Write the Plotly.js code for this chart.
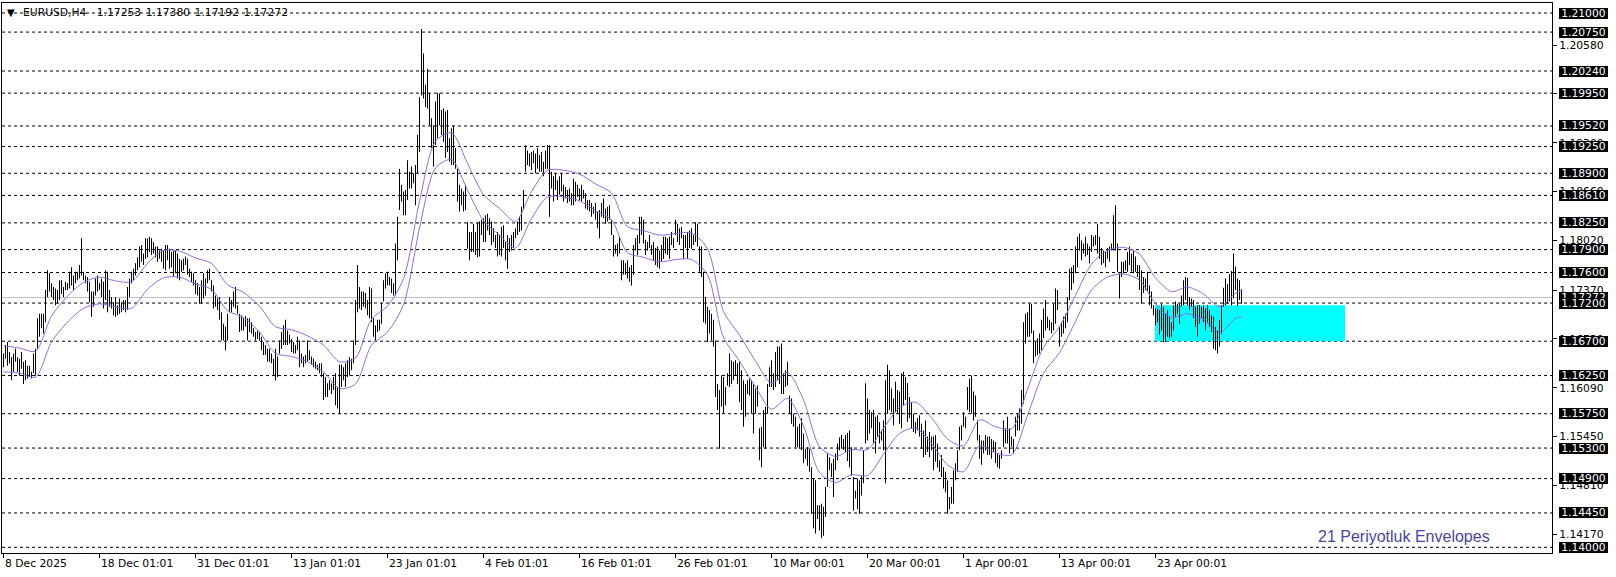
<!DOCTYPE html>
<html><head><meta charset="utf-8">
<script src="https://cdn.plot.ly/plotly-3.0.1.min.js"></script>
<style>html,body{margin:0;padding:0;background:#fff;overflow:hidden}#chart{width:1616px;height:577px}</style>
</head><body><div id="chart"></div>
<script>
// EURUSD H4 bar highs / lows (one value per 4-hour bar)
const highs = [
1.1654,1.1665,1.1669,1.1656,1.1649,1.1654,1.1660,1.1649,1.1647,1.1656,
1.1643,1.1645,1.1638,1.1638,1.1630,1.1654,1.1660,1.1700,1.1706,1.1706,
1.1706,1.1737,1.1763,1.1759,1.1746,1.1741,1.1739,1.1737,1.1750,1.1750,
1.1741,1.1748,1.1746,1.1761,1.1767,1.1756,1.1761,1.1761,1.1770,1.1805,
1.1761,1.1756,1.1754,1.1748,1.1735,1.1735,1.1752,1.1756,1.1746,1.1752,
1.1748,1.1763,1.1761,1.1737,1.1728,1.1721,1.1728,1.1717,1.1726,1.1721,
1.1724,1.1724,1.1741,1.1752,1.1761,1.1765,1.1772,1.1780,1.1794,1.1796,
1.1785,1.1805,1.1805,1.1807,1.1805,1.1800,1.1794,1.1794,1.1789,1.1791,
1.1789,1.1796,1.1796,1.1791,1.1787,1.1789,1.1789,1.1785,1.1778,1.1776,
1.1778,1.1781,1.1778,1.1765,1.1761,1.1759,1.1750,1.1746,1.1741,1.1750,
1.1759,1.1752,1.1763,1.1765,1.1750,1.1743,1.1730,1.1726,1.1728,1.1708,
1.1693,1.1689,1.1706,1.1728,1.1724,1.1735,1.1741,1.1717,1.1706,1.1704,
1.1700,1.1703,1.1700,1.1700,1.1695,1.1687,1.1682,1.1684,1.1682,1.1676,
1.1669,1.1665,1.1660,1.1660,1.1654,1.1647,1.1660,1.1650,1.1671,1.1682,
1.1691,1.1698,1.1684,1.1678,1.1673,1.1669,1.1665,1.1676,1.1671,1.1654,
1.1650,1.1652,1.1671,1.1658,1.1650,1.1647,1.1643,1.1639,1.1641,1.1641,
1.1628,1.1623,1.1615,1.1619,1.1615,1.1623,1.1628,1.1610,1.1639,1.1639,
1.1636,1.1641,1.1645,1.1649,1.1647,1.1671,1.1724,1.1770,1.1741,1.1735,
1.1735,1.1733,1.1724,1.1741,1.1739,1.1700,1.1691,1.1698,1.1698,1.1720,
1.1750,1.1759,1.1761,1.1754,1.1752,1.1746,1.1798,1.1833,1.1896,1.1875,
1.1866,1.1868,1.1907,1.1892,1.1899,1.1890,1.1901,1.1940,1.1990,1.2079,
1.2047,1.2006,1.2027,1.1995,1.1962,1.1953,1.1984,1.1995,1.1995,1.1973,
1.1975,1.1971,1.1973,1.1936,1.1949,1.1953,1.1923,1.1896,1.1875,1.1870,
1.1866,1.1875,1.1826,1.1813,1.1813,1.1824,1.1813,1.1825,1.1827,1.1829,
1.1831,1.1835,1.1837,1.1831,1.1827,1.1818,1.1809,1.1813,1.1809,1.1820,
1.1822,1.1800,1.1809,1.1805,1.1809,1.1813,1.1818,1.1827,1.1833,1.1846,
1.1868,1.1927,1.1920,1.1916,1.1918,1.1920,1.1916,1.1923,1.1914,1.1918,
1.1905,1.1920,1.1927,1.1927,1.1892,1.1886,1.1890,1.1881,1.1886,1.1890,
1.1875,1.1872,1.1868,1.1870,1.1864,1.1883,1.1879,1.1875,1.1870,1.1875,
1.1868,1.1864,1.1855,1.1855,1.1851,1.1846,1.1851,1.1840,1.1842,1.1851,
1.1857,1.1844,1.1846,1.1848,1.1829,1.1809,1.1796,1.1798,1.1807,1.1776,
1.1776,1.1772,1.1776,1.1767,1.1770,1.1796,1.1805,1.1809,1.1833,1.1833,
1.1829,1.1803,1.1800,1.1809,1.1796,1.1800,1.1792,1.1794,1.1789,1.1796,
1.1807,1.1807,1.1805,1.1807,1.1813,1.1805,1.1829,1.1824,1.1818,1.1820,
1.1809,1.1809,1.1813,1.1815,1.1818,1.1809,1.1826,1.1824,1.1794,1.1794,
1.1761,1.1728,1.1715,1.1711,1.1706,1.1698,1.1671,1.1614,1.1606,1.1625,
1.1623,1.1610,1.1628,1.1654,1.1645,1.1643,1.1645,1.1641,1.1643,1.1632,
1.1619,1.1614,1.1619,1.1621,1.1619,1.1614,1.1608,1.1612,1.1556,1.1558,
1.1580,1.1584,1.1614,1.1636,1.1645,1.1628,1.1656,1.1663,1.1663,1.1667,
1.1628,1.1632,1.1643,1.1599,1.1595,1.1575,1.1571,1.1558,1.1562,1.1569,
1.1549,1.1529,1.1531,1.1529,1.1505,1.1490,1.1488,1.1455,1.1455,1.1457,
1.1453,1.1479,1.1523,1.1518,1.1510,1.1516,1.1523,1.1536,1.1544,1.1547,
1.1542,1.1547,1.1550,1.1553,1.1531,1.1492,1.1474,1.1490,1.1488,1.1494,
1.1527,1.1615,1.1595,1.1580,1.1577,1.1580,1.1571,1.1573,1.1564,1.1553,
1.1566,1.1619,1.1639,1.1632,1.1608,1.1595,1.1617,1.1606,1.1604,1.1628,
1.1630,1.1623,1.1615,1.1597,1.1590,1.1575,1.1564,1.1569,1.1573,1.1562,
1.1553,1.1566,1.1545,1.1551,1.1545,1.1545,1.1547,1.1536,1.1514,1.1521,
1.1505,1.1499,1.1488,1.1466,1.1479,1.1501,1.1510,1.1527,1.1558,1.1560,
1.1577,1.1571,1.1610,1.1621,1.1625,1.1604,1.1599,1.1566,1.1547,1.1540,
1.1540,1.1547,1.1545,1.1545,1.1542,1.1540,1.1538,1.1523,1.1521,1.1527,
1.1566,1.1556,1.1571,1.1556,1.1545,1.1542,1.1571,1.1575,1.1582,1.1606,
1.1695,1.1706,1.1708,1.1719,1.1719,1.1684,1.1669,1.1674,1.1680,1.1698,
1.1713,1.1724,1.1702,1.1698,1.1695,1.1719,1.1739,1.1737,1.1689,1.1695,
1.1702,1.1706,1.1728,1.1765,1.1767,1.1770,1.1794,1.1807,1.1811,1.1802,
1.1798,1.1807,1.1798,1.1794,1.1809,1.1807,1.1809,1.1824,1.1807,1.1792,
1.1789,1.1787,1.1792,1.1794,1.1798,1.1835,1.1848,1.1798,1.1759,1.1774,
1.1774,1.1776,1.1787,1.1794,1.1785,1.1789,1.1781,1.1770,1.1770,1.1763,
1.1754,1.1752,1.1761,1.1743,1.1735,1.1717,1.1713,1.1713,1.1711,1.1719,
1.1715,1.1706,1.1711,1.1702,1.1695,1.1717,1.1722,1.1719,1.1719,1.1730,
1.1750,1.1754,1.1753,1.1728,1.1726,1.1724,1.1715,1.1717,1.1717,1.1715,
1.1717,1.1713,1.1717,1.1711,1.1704,1.1702,1.1689,1.1684,1.1698,1.1717,
1.1740,1.1752,1.1745,1.1758,1.1762,1.1785,1.1768,1.1752,1.1750,1.1738
];
const lows = [
1.1636,1.1647,1.1638,1.1641,1.1619,1.1630,1.1643,1.1630,1.1625,1.1634,
1.1614,1.1619,1.1621,1.1623,1.1621,1.1628,1.1625,1.1660,1.1676,1.1687,
1.1680,1.1695,1.1728,1.1735,1.1728,1.1724,1.1717,1.1719,1.1724,1.1732,
1.1728,1.1737,1.1737,1.1739,1.1743,1.1737,1.1746,1.1750,1.1752,1.1756,
1.1750,1.1746,1.1735,1.1721,1.1702,1.1715,1.1730,1.1735,1.1737,1.1728,
1.1713,1.1724,1.1708,1.1715,1.1713,1.1704,1.1702,1.1704,1.1706,1.1708,
1.1711,1.1708,1.1711,1.1728,1.1746,1.1750,1.1756,1.1763,1.1767,1.1774,
1.1770,1.1778,1.1780,1.1787,1.1783,1.1785,1.1780,1.1774,1.1778,1.1774,
1.1765,1.1763,1.1776,1.1765,1.1767,1.1754,1.1759,1.1752,1.1750,1.1761,
1.1763,1.1770,1.1757,1.1754,1.1748,1.1743,1.1732,1.1730,1.1719,1.1719,
1.1726,1.1730,1.1746,1.1750,1.1735,1.1713,1.1715,1.1711,1.1698,1.1671,
1.1671,1.1658,1.1671,1.1708,1.1708,1.1715,1.1713,1.1706,1.1682,1.1684,
1.1684,1.1689,1.1671,1.1682,1.1680,1.1676,1.1671,1.1673,1.1671,1.1658,
1.1652,1.1652,1.1643,1.1643,1.1641,1.1625,1.1619,1.1623,1.1654,1.1660,
1.1665,1.1665,1.1665,1.1667,1.1656,1.1654,1.1654,1.1658,1.1636,1.1641,
1.1636,1.1641,1.1643,1.1645,1.1639,1.1636,1.1634,1.1632,1.1628,1.1623,
1.1593,1.1597,1.1597,1.1606,1.1601,1.1606,1.1586,1.1582,1.1575,1.1610,
1.1619,1.1610,1.1623,1.1625,1.1632,1.1641,1.1665,1.1708,1.1713,1.1711,
1.1715,1.1713,1.1704,1.1700,1.1695,1.1676,1.1671,1.1682,1.1684,1.1693,
1.1722,1.1739,1.1743,1.1743,1.1733,1.1730,1.1730,1.1776,1.1842,1.1853,
1.1835,1.1835,1.1855,1.1870,1.1870,1.1877,1.1848,1.1890,1.1918,1.1992,
1.1988,1.1977,1.1975,1.1953,1.1923,1.1899,1.1927,1.1936,1.1953,1.1940,
1.1931,1.1910,1.1918,1.1905,1.1901,1.1901,1.1896,1.1853,1.1840,1.1848,
1.1840,1.1842,1.1791,1.1776,1.1787,1.1787,1.1783,1.1780,1.1781,1.1809,
1.1800,1.1800,1.1815,1.1809,1.1796,1.1800,1.1792,1.1781,1.1783,1.1781,
1.1792,1.1776,1.1765,1.1787,1.1789,1.1792,1.1805,1.1809,1.1813,1.1815,
1.1842,1.1892,1.1901,1.1899,1.1894,1.1903,1.1890,1.1896,1.1892,1.1892,
1.1886,1.1896,1.1896,1.1833,1.1870,1.1853,1.1868,1.1855,1.1862,1.1866,
1.1853,1.1857,1.1851,1.1853,1.1848,1.1848,1.1853,1.1859,1.1855,1.1853,
1.1857,1.1844,1.1842,1.1840,1.1833,1.1837,1.1829,1.1818,1.1805,1.1833,
1.1831,1.1824,1.1827,1.1829,1.1809,1.1781,1.1785,1.1781,1.1785,1.1750,
1.1757,1.1757,1.1752,1.1748,1.1743,1.1757,1.1789,1.1783,1.1798,1.1809,
1.1798,1.1783,1.1789,1.1792,1.1783,1.1776,1.1770,1.1767,1.1765,1.1774,
1.1778,1.1785,1.1783,1.1778,1.1796,1.1792,1.1809,1.1800,1.1796,1.1805,
1.1778,1.1792,1.1778,1.1792,1.1791,1.1796,1.1800,1.1794,1.1761,1.1754,
1.1695,1.1693,1.1669,1.1680,1.1671,1.1663,1.1597,1.1580,1.1529,1.1584,
1.1575,1.1586,1.1612,1.1610,1.1614,1.1619,1.1625,1.1614,1.1590,1.1580,
1.1558,1.1571,1.1601,1.1599,1.1575,1.1549,1.1575,1.1584,1.1514,1.1505,
1.1531,1.1529,1.1575,1.1610,1.1610,1.1606,1.1610,1.1619,1.1614,1.1601,
1.1601,1.1610,1.1612,1.1575,1.1562,1.1558,1.1531,1.1531,1.1529,1.1527,
1.1510,1.1516,1.1507,1.1499,1.1444,1.1425,1.1418,1.1437,1.1422,1.1412,
1.1415,1.1440,1.1479,1.1501,1.1492,1.1466,1.1501,1.1514,1.1527,1.1529,
1.1527,1.1525,1.1513,1.1505,1.1494,1.1448,1.1464,1.1450,1.1444,1.1468,
1.1484,1.1536,1.1540,1.1549,1.1556,1.1536,1.1523,1.1545,1.1536,1.1540,
1.1527,1.1484,1.1575,1.1580,1.1577,1.1560,1.1577,1.1575,1.1562,1.1556,
1.1586,1.1593,1.1564,1.1569,1.1556,1.1551,1.1549,1.1553,1.1545,1.1529,
1.1518,1.1521,1.1525,1.1518,1.1527,1.1501,1.1512,1.1505,1.1499,1.1492,
1.1477,1.1472,1.1444,1.1450,1.1457,1.1457,1.1488,1.1499,1.1527,1.1540,
1.1558,1.1556,1.1580,1.1577,1.1575,1.1566,1.1571,1.1540,1.1516,1.1508,
1.1523,1.1527,1.1521,1.1521,1.1516,1.1525,1.1510,1.1505,1.1503,1.1516,
1.1531,1.1536,1.1536,1.1523,1.1532,1.1523,1.1545,1.1553,1.1553,1.1562,
1.1588,1.1667,1.1676,1.1676,1.1680,1.1641,1.1650,1.1652,1.1654,1.1658,
1.1674,1.1684,1.1687,1.1684,1.1680,1.1684,1.1693,1.1711,1.1663,1.1676,
1.1680,1.1687,1.1695,1.1724,1.1737,1.1746,1.1759,1.1767,1.1789,1.1776,
1.1785,1.1781,1.1783,1.1772,1.1787,1.1794,1.1796,1.1785,1.1778,1.1770,
1.1772,1.1767,1.1778,1.1774,1.1789,1.1789,1.1789,1.1761,1.1726,1.1754,
1.1759,1.1763,1.1761,1.1770,1.1761,1.1759,1.1761,1.1754,1.1737,1.1719,
1.1733,1.1737,1.1735,1.1717,1.1713,1.1704,1.1691,1.1695,1.1678,1.1684,
1.1669,1.1669,1.1676,1.1674,1.1676,1.1684,1.1702,1.1706,1.1693,1.1715,
1.1717,1.1724,1.1717,1.1711,1.1715,1.1700,1.1689,1.1676,1.1693,1.1700,
1.1695,1.1684,1.1695,1.1689,1.1682,1.1660,1.1658,1.1654,1.1663,1.1680,
1.1715,1.1717,1.1719,1.1722,1.1717,1.1726,1.1737,1.1715,1.1724,1.1719
];

// 21-period Envelopes indicator, read at every 8th bar
const envX = [0,8,16,24,32,40,48,56,64,72,80,88,96,104,112,120,128,136,144,152,
160,168,176,184,192,200,208,216,224,232,240,248,256,264,272,280,288,296,304,312,
320,328,336,344,352,360,368,376,384,392,400,408,416,424,432,440,448,456,464,472,
480,488,496,504,512,520,528,536,544,552,560,568,576,584,592,600,608,616,619];
const envUpper = [1.1664,1.1661,1.1657,1.1703,1.1729,1.1747,1.1754,1.1749,1.1748,1.1772,
1.1789,1.1788,1.1779,1.1772,1.1744,1.1734,1.1716,1.1689,1.1685,1.1677,
1.1665,1.1643,1.1648,1.1699,1.1716,1.1752,1.1853,1.1932,1.1943,1.1903,
1.1862,1.1844,1.1827,1.1866,1.1894,1.1894,1.1889,1.1876,1.1864,1.1820,
1.1815,1.1809,1.1811,1.1812,1.1791,1.1709,1.1678,1.1644,1.1615,1.1629,
1.1593,1.1532,1.1519,1.1528,1.1528,1.1556,1.1583,1.1590,1.1570,1.1542,
1.1533,1.1567,1.1558,1.1555,1.1607,1.1662,1.1689,1.1730,1.1771,1.1789,
1.1793,1.1784,1.1753,1.1735,1.1741,1.1732,1.1715,1.1733,1.1736];
const envLower = [1.1630,1.1628,1.1623,1.1669,1.1695,1.1713,1.1719,1.1715,1.1713,1.1738,
1.1753,1.1754,1.1745,1.1738,1.1710,1.1701,1.1682,1.1654,1.1650,1.1643,
1.1630,1.1608,1.1614,1.1665,1.1682,1.1718,1.1818,1.1897,1.1908,1.1868,
1.1828,1.1809,1.1792,1.1831,1.1859,1.1859,1.1854,1.1841,1.1829,1.1786,
1.1780,1.1774,1.1777,1.1777,1.1757,1.1675,1.1644,1.1610,1.1581,1.1595,
1.1559,1.1498,1.1485,1.1495,1.1494,1.1522,1.1549,1.1556,1.1536,1.1508,
1.1499,1.1533,1.1524,1.1521,1.1573,1.1628,1.1655,1.1696,1.1737,1.1754,
1.1758,1.1750,1.1719,1.1701,1.1706,1.1698,1.1681,1.1700,1.1702];

// horizontal price levels drawn on the chart
const levels = [1.2100,1.2075,1.2024,1.1995,1.1952,1.1925,1.1890,1.1861,1.1825,1.1790,
1.1760,1.1720,1.1670,1.1625,1.1575,1.1530,1.1490,1.1445,1.1400];
// price-scale ticks
const axisTicks = [1.2058,1.1994,1.1930,1.1866,1.1802,1.1737,1.1673,1.1609,1.1545,1.1481,1.1417];
// time-scale labels and the bar they sit on
const timeLabels = ['8 Dec 2025','18 Dec 01:01','31 Dec 01:01','13 Jan 01:01','23 Jan 01:01',
'4 Feb 01:01','16 Feb 01:01','26 Feb 01:01','10 Mar 00:01','20 Mar 00:01','1 Apr 00:01',
'13 Apr 00:01','23 Apr 00:01'];
const timeLabelBars = [0,48,96,144,192,240,288,336,384,432,480,528,576];
const bidPrice = 1.17272;
const zone = {start: 575.75, end: 670.75, top: 1.1717, bottom: 1.1670};
const headerSymbol = 'EURUSD,H4';
const headerPrices = ['1.17253', '1.17380', '1.17192', '1.17272'];
const noteText = '21 Periyotluk Envelopes';

const FONT = 'DejaVu Sans';
const idx = highs.map((_, i) => i);

const traces = [
  {type: 'bar', x: idx, base: lows, y: highs.map((h, i) => h - lows[i]), width: 0.45,
   marker: {color: '#000000', line: {width: 0}}, hoverinfo: 'skip'},
  {type: 'scatter', mode: 'lines', x: envX, y: envUpper,
   line: {color: '#8f6ce0', width: 1, shape: 'spline', smoothing: 0.8}, hoverinfo: 'skip'},
  {type: 'scatter', mode: 'lines', x: envX, y: envLower,
   line: {color: '#8f6ce0', width: 1, shape: 'spline', smoothing: 0.8}, hoverinfo: 'skip'}
];

const shapes = [
  {type: 'rect', xref: 'x', yref: 'y', x0: zone.start, x1: zone.end, y0: zone.bottom, y1: zone.top,
   fillcolor: '#00FFFF', line: {width: 0}, layer: 'below'}
];
levels.forEach(v => shapes.push({type: 'line', xref: 'paper', yref: 'y', x0: 0, x1: 1, y0: v, y1: v,
  line: {color: '#000000', width: 1, dash: '3px,3px'}, layer: 'below'}));
shapes.push({type: 'line', xref: 'paper', yref: 'y', x0: 0, x1: 1, y0: bidPrice, y1: bidPrice,
  line: {color: '#C0C0C0', width: 1}, layer: 'below'});

const annotations = [];
function priceBox(v) {
  return {xref: 'paper', x: 1, xanchor: 'left', xshift: 7, yref: 'y', y: v, yanchor: 'middle',
    text: v.toFixed(5), showarrow: false, bgcolor: '#000000', borderpad: 0, borderwidth: 0,
    width: 49, height: 11, font: {family: FONT, size: 10.75, color: '#ffffff'}};
}
annotations.push(priceBox(bidPrice));
levels.forEach(v => annotations.push(priceBox(v)));
timeLabels.forEach((t, k) => annotations.push({xref: 'x', x: timeLabelBars[k], xanchor: 'left',
  yref: 'paper', y: 0, yanchor: 'top', yshift: -3, text: t, showarrow: false, borderpad: 0,
  font: {family: FONT, size: 10.75, color: '#000000'}}));
annotations.push({xref: 'paper', x: 0, xanchor: 'left', xshift: 4, yref: 'y', y: levels[0], yanchor: 'middle',
  yshift: 1, text: '▼', showarrow: false, borderpad: 0, font: {family: FONT, size: 10, color: '#000000'}});
const headerText = headerSymbol + '\u00a0\u00a0\u00a0' + headerPrices.join('\u00a0\u200a');
annotations.push({xref: 'paper', x: 0, xanchor: 'left', xshift: 20, yref: 'y', y: levels[0], yanchor: 'middle',
  yshift: 0.5, text: headerText, showarrow: false, borderpad: 0, font: {family: FONT, size: 10.75, color: '#000000'}});
annotations.push({xref: 'paper', x: (1317 - 2) / 1550, xanchor: 'left', yref: 'paper', y: (553 - 536) / 550,
  yanchor: 'middle', text: noteText, showarrow: false, borderpad: 0,
  font: {family: 'Liberation Sans', size: 16, color: '#46469c'}});

const layout = {
  width: 1616, height: 577,
  margin: {l: 2, r: 64, t: 3, b: 24, pad: 0},
  paper_bgcolor: '#ffffff', plot_bgcolor: '#ffffff',
  showlegend: false, hovermode: false, dragmode: false,
  xaxis: {range: [-0.75, 774.25], showgrid: false, zeroline: false, showline: true, linecolor: '#000000',
    linewidth: 1, mirror: true, ticks: 'outside', ticklen: 4, tickcolor: '#000000', tickwidth: 1,
    tickvals: timeLabelBars, showticklabels: false, fixedrange: true},
  yaxis: {side: 'right', range: [1.139253, 1.211310], showgrid: false, zeroline: false, showline: true,
    linecolor: '#000000', linewidth: 1, mirror: true, ticks: 'outside', ticklen: 4, tickcolor: '#000000',
    tickwidth: 1, tickvals: axisTicks, ticktext: axisTicks.map(v => v.toFixed(5)),
    tickfont: {family: FONT, size: 10.75, color: '#000000'}, fixedrange: true},
  shapes: shapes,
  annotations: annotations
};

Plotly.newPlot('chart', traces, layout, {displayModeBar: false, responsive: false});
</script>
</body></html>
